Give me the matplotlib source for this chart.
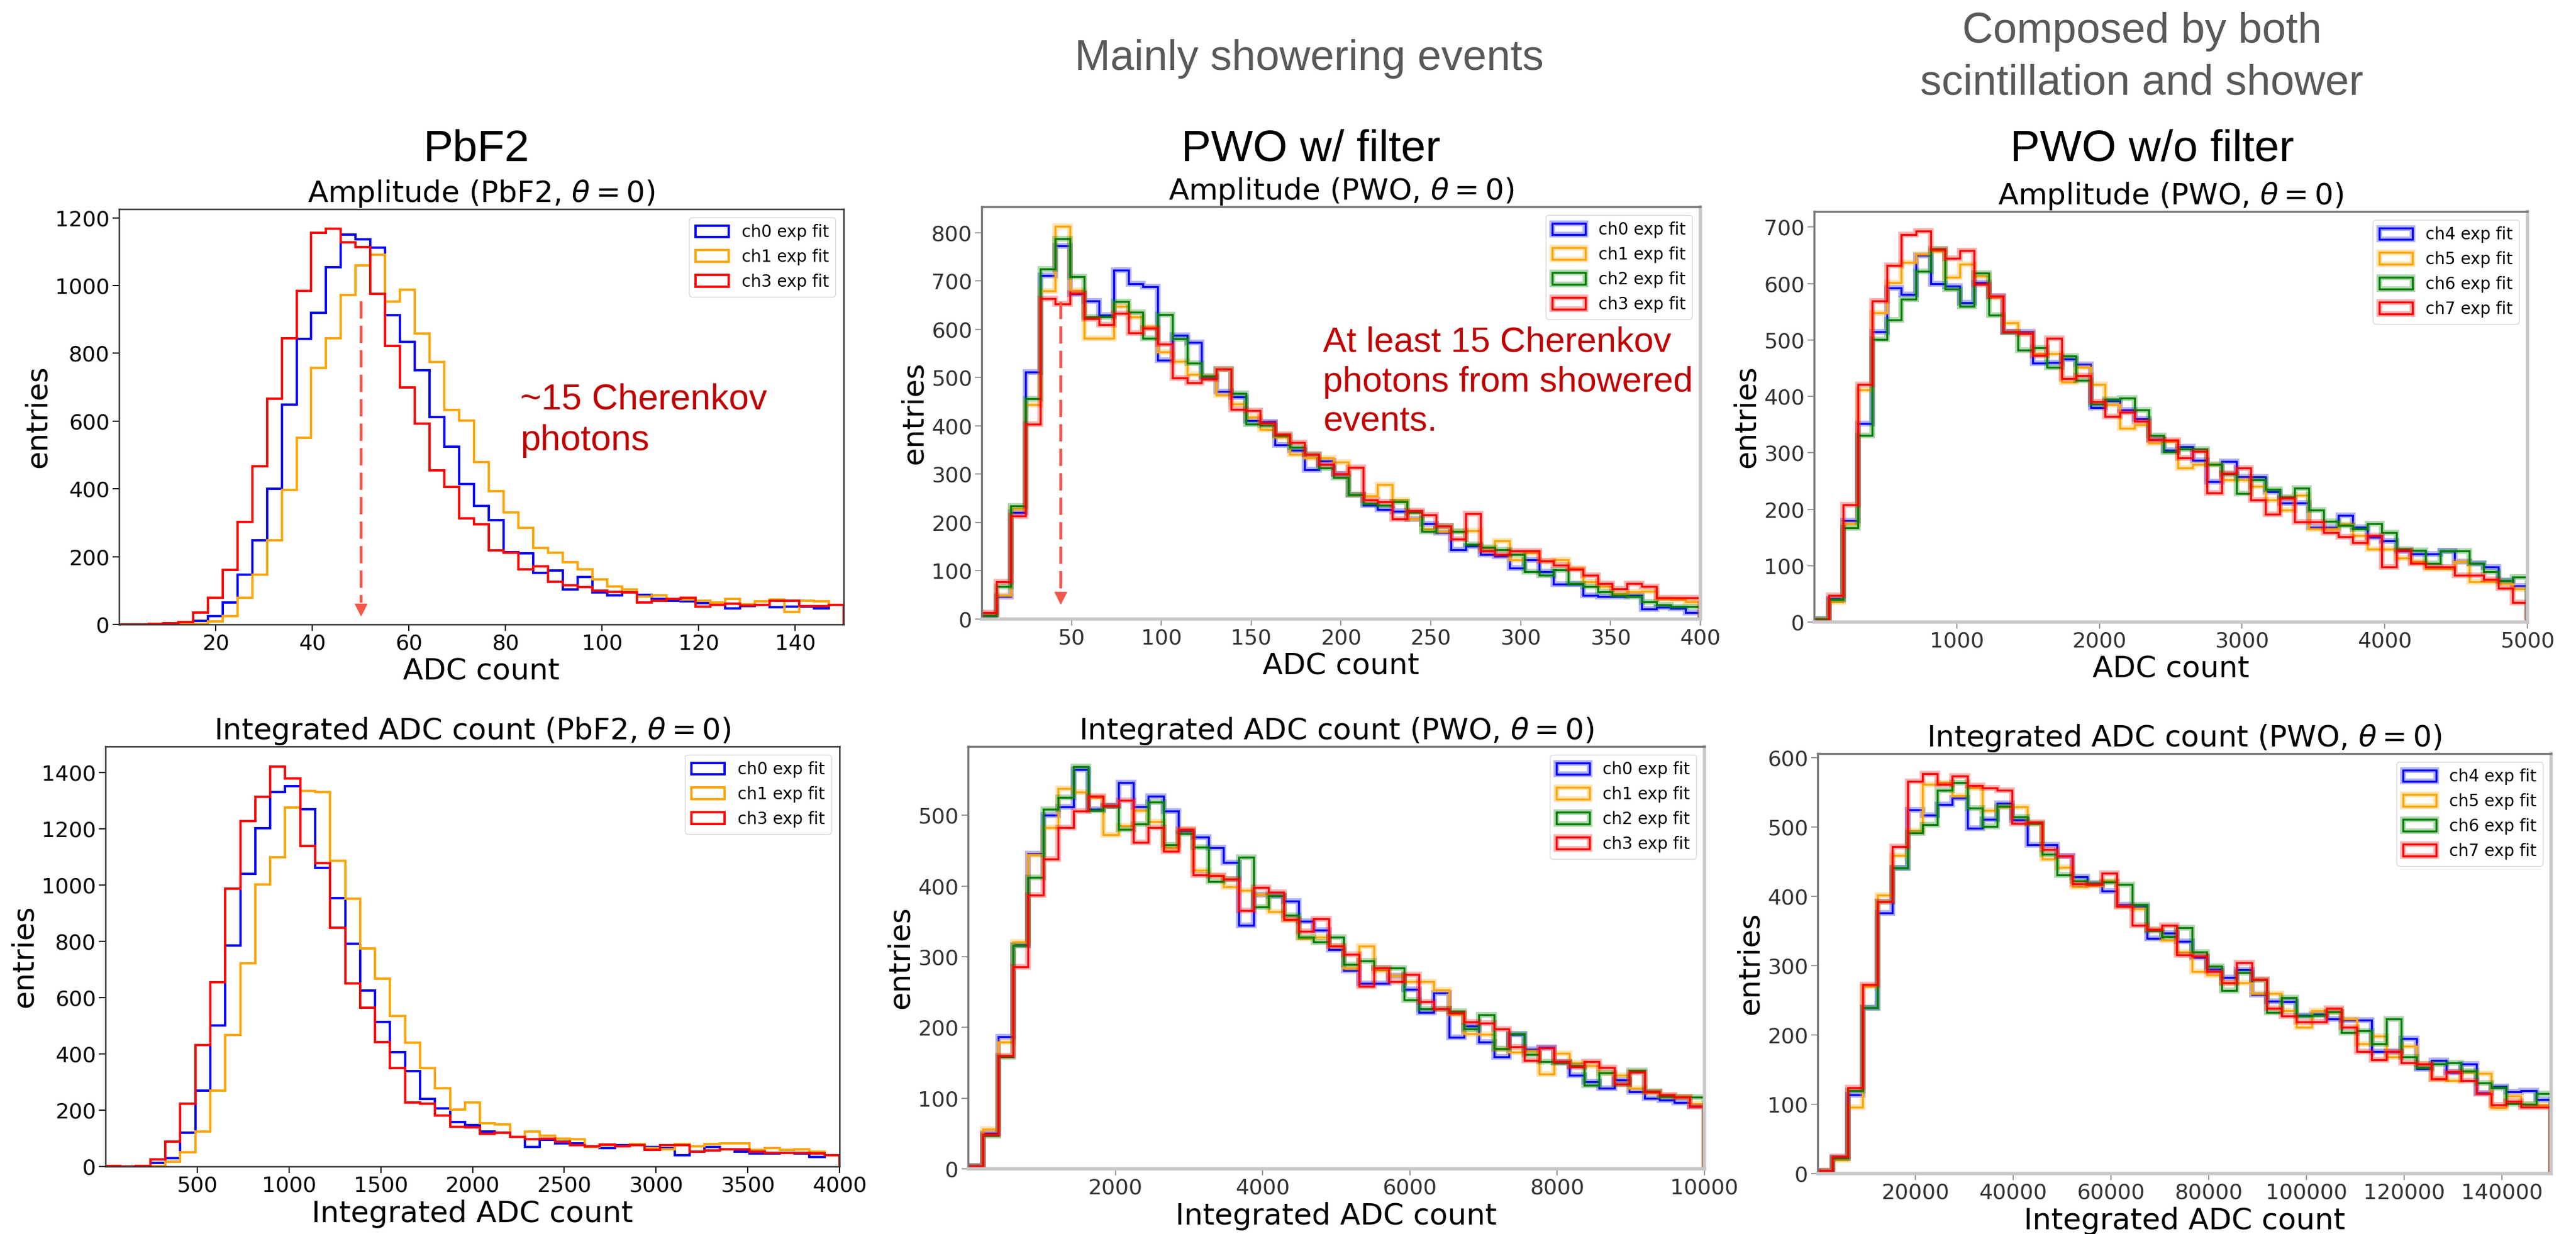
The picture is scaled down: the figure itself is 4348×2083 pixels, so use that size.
import numpy as np
import matplotlib
matplotlib.use('Agg')
import matplotlib.pyplot as plt
import matplotlib.patheffects as pe

# entries per bin (49 bins between 0 and the axis maximum)
amp_pbf2_max = 150
amp_pbf2_ch0 = [0, 0, 1, 2, 3, 10, 25, 65, 147, 249, 401, 648, 842, 920, 1054, 1150, 1137, 1111, 913, 833,
                750, 612, 525, 414, 349, 307, 214, 209, 152, 159, 104, 139, 94, 85, 95, 88, 75, 70, 68, 63,
                57, 48, 55, 57, 50, 52, 52, 48, 58]
amp_pbf2_ch1 = [0, 0, 0, 0, 1, 2, 8, 25, 78, 146, 249, 397, 551, 757, 845, 972, 1059, 1090, 953, 987,
                858, 775, 632, 602, 479, 393, 330, 285, 226, 212, 184, 163, 133, 111, 104, 83, 86, 76, 74, 70,
                64, 75, 60, 68, 73, 36, 70, 68, 58]
amp_pbf2_ch3 = [0, 0, 2, 3, 7, 35, 78, 160, 303, 467, 666, 845, 985, 1155, 1167, 1128, 1113, 975, 822, 700,
                593, 454, 405, 313, 296, 218, 211, 163, 172, 125, 115, 110, 100, 97, 95, 65, 70, 75, 78, 52,
                58, 62, 56, 58, 70, 70, 55, 55, 58]

amp_pwo_f_max = 400
amp_pwo_f_ch0 = [5, 46, 221, 511, 711, 773, 673, 659, 629, 722, 694, 688, 536, 587, 573, 501, 471, 460, 411, 408,
                 361, 349, 309, 327, 300, 258, 235, 227, 223, 207, 197, 179, 144, 151, 134, 130, 105, 123, 98, 72,
                 72, 49, 46, 47, 49, 21, 25, 22, 14]
amp_pwo_f_ch1 = [7, 49, 228, 444, 680, 813, 681, 581, 581, 647, 626, 605, 553, 534, 506, 503, 464, 445, 418, 392,
                 376, 341, 334, 334, 325, 258, 255, 278, 246, 207, 186, 181, 181, 183, 148, 162, 123, 137, 120, 123,
                 105, 77, 67, 53, 56, 58, 42, 40, 35]
amp_pwo_f_ch2 = [7, 67, 234, 456, 725, 787, 709, 626, 626, 657, 635, 581, 631, 580, 530, 503, 518, 467, 404, 401,
                 380, 356, 341, 313, 293, 258, 239, 236, 243, 221, 181, 193, 181, 155, 148, 144, 134, 98, 91, 102,
                 74, 67, 56, 49, 47, 35, 30, 26, 26]
amp_pwo_f_ch3 = [14, 77, 214, 403, 664, 652, 674, 622, 609, 633, 593, 602, 569, 499, 489, 497, 517, 434, 432, 406,
                 383, 366, 341, 320, 300, 314, 246, 243, 207, 225, 216, 193, 165, 218, 141, 134, 141, 141, 120, 112,
                 103, 91, 74, 63, 74, 68, 44, 44, 44]

amp_pwo_nf_max = 5000
amp_pwo_nf_ch4 = [5, 41, 180, 352, 514, 592, 581, 650, 600, 595, 566, 602, 578, 514, 514, 459, 460, 466, 457, 380,
                  392, 376, 360, 323, 304, 311, 287, 249, 285, 257, 257, 231, 211, 211, 168, 168, 189, 168, 150, 144,
                  126, 121, 121, 126, 107, 104, 98, 74, 64]
amp_pwo_nf_ch5 = [5, 36, 174, 412, 548, 602, 637, 652, 657, 611, 634, 613, 575, 530, 511, 476, 476, 425, 451, 421,
                  385, 343, 350, 317, 320, 273, 279, 279, 252, 252, 240, 216, 198, 225, 165, 165, 173, 153, 129, 129,
                  113, 107, 95, 94, 107, 71, 71, 68, 59]
amp_pwo_nf_ch6 = [5, 40, 167, 331, 501, 535, 572, 622, 661, 590, 560, 618, 544, 513, 482, 486, 451, 471, 428, 386,
                  395, 397, 376, 331, 301, 307, 307, 279, 263, 228, 252, 235, 222, 237, 198, 178, 171, 165, 174, 159,
                  129, 127, 104, 126, 126, 104, 89, 74, 80]
amp_pwo_nf_ch7 = [2, 47, 208, 421, 569, 632, 687, 693, 660, 645, 658, 599, 578, 514, 511, 473, 503, 432, 437, 391,
                  364, 372, 356, 323, 322, 291, 302, 229, 264, 273, 216, 191, 219, 177, 177, 159, 151, 141, 153, 98,
                  127, 104, 98, 98, 83, 83, 76, 60, 35]

int_pbf2_max = 4000
int_pbf2_ch0 = [0, 0, 0, 13, 30, 119, 270, 501, 784, 1039, 1202, 1331, 1351, 1269, 1061, 953, 791, 626, 514, 406,
                339, 240, 207, 158, 148, 125, 121, 105, 70, 95, 83, 83, 70, 65, 75, 79, 69, 66, 40, 53,
                70, 62, 53, 46, 46, 49, 46, 33, 40]
int_pbf2_ch1 = [0, 0, 0, 3, 17, 50, 125, 270, 468, 721, 1002, 1098, 1275, 1335, 1331, 1085, 952, 775, 668, 534,
                439, 349, 277, 202, 227, 154, 149, 105, 125, 109, 99, 96, 69, 75, 72, 79, 66, 62, 79, 72,
                79, 83, 83, 59, 66, 59, 62, 53, 40]
int_pbf2_ch3 = [3, 1, 3, 26, 88, 224, 432, 655, 988, 1226, 1314, 1421, 1378, 1138, 1077, 848, 650, 563, 442, 349,
                227, 224, 181, 141, 138, 116, 119, 105, 96, 99, 88, 76, 71, 78, 72, 75, 59, 75, 75, 53,
                57, 62, 62, 53, 49, 49, 49, 46, 40]

int_pwo_f_max = 10000
int_pwo_f_ch0 = [4, 50, 187, 317, 446, 500, 512, 565, 509, 514, 546, 512, 527, 506, 478, 469, 454, 433, 344, 388,
                 386, 379, 350, 338, 310, 281, 262, 262, 273, 254, 221, 249, 186, 202, 179, 158, 190, 169, 172, 151,
                 132, 123, 114, 126, 109, 100, 97, 94, 89]
int_pwo_f_ch1 = [3, 56, 179, 321, 444, 483, 538, 533, 525, 473, 485, 507, 491, 454, 480, 422, 415, 399, 394, 388,
                 364, 352, 326, 328, 315, 284, 315, 281, 273, 265, 265, 253, 219, 191, 190, 169, 165, 167, 134, 163,
                 150, 146, 136, 132, 114, 108, 103, 102, 92]
int_pwo_f_ch2 = [3, 47, 158, 316, 412, 509, 525, 569, 507, 513, 480, 488, 519, 458, 474, 455, 406, 410, 441, 370,
                 386, 359, 328, 321, 328, 289, 294, 284, 284, 239, 226, 226, 223, 198, 218, 170, 191, 162, 152, 150,
                 146, 118, 136, 120, 139, 110, 102, 101, 101]
int_pwo_f_ch3 = [3, 49, 160, 286, 387, 438, 483, 506, 527, 514, 521, 462, 483, 449, 480, 416, 415, 410, 365, 398,
                 391, 353, 336, 354, 315, 303, 258, 284, 265, 275, 236, 226, 220, 208, 206, 198, 173, 153, 171, 152,
                 144, 152, 143, 120, 137, 109, 105, 101, 88]

int_pwo_nf_max = 150000
int_pwo_nf_ch4 = [3, 23, 114, 239, 376, 441, 525, 517, 532, 542, 498, 511, 534, 510, 474, 474, 458, 428, 419, 408,
                  388, 385, 339, 347, 335, 312, 295, 283, 294, 258, 249, 248, 228, 230, 223, 221, 221, 176, 176, 195,
                  151, 163, 146, 158, 116, 126, 118, 120, 107]
int_pwo_nf_ch5 = [3, 20, 96, 270, 402, 459, 495, 561, 564, 545, 556, 524, 529, 529, 505, 454, 442, 414, 415, 422,
                  385, 382, 352, 337, 320, 291, 286, 275, 275, 260, 260, 235, 211, 235, 233, 223, 187, 198, 168, 184,
                  158, 136, 134, 146, 144, 95, 112, 100, 99]
int_pwo_nf_ch6 = [3, 22, 120, 239, 392, 441, 491, 503, 553, 564, 527, 501, 530, 514, 505, 461, 431, 422, 419, 420,
                  417, 388, 350, 342, 355, 320, 299, 264, 290, 279, 232, 254, 227, 228, 233, 203, 206, 187, 223, 168,
                  153, 158, 160, 148, 131, 124, 101, 100, 115]
int_pwo_nf_ch7 = [4, 25, 124, 273, 392, 472, 566, 577, 561, 573, 560, 556, 553, 505, 507, 467, 458, 418, 417, 433,
                  385, 358, 352, 358, 315, 314, 291, 275, 304, 280, 238, 227, 219, 219, 238, 211, 176, 164, 176, 160,
                  158, 137, 147, 134, 115, 99, 104, 96, 96]

labels_pbf2 = ['ch0 exp fit', 'ch1 exp fit', 'ch3 exp fit']
labels_pwo_f = ['ch0 exp fit', 'ch1 exp fit', 'ch2 exp fit', 'ch3 exp fit']
labels_pwo_nf = ['ch4 exp fit', 'ch5 exp fit', 'ch6 exp fit', 'ch7 exp fit']
colors3 = ['blue', 'orange', 'red']
colors4 = ['blue', 'orange', 'green', 'red']

# mean photon-count markers (x, arrow top, arrow tip)
arrow_pbf2 = (50, 955, 44)
arrow_pwo = (44, 657, 44)

ANNOT_RED = '#c00000'
ARROW_RED = '#f0594b'
HEAD_FONT = 'Liberation Sans'


def draw_hist(ax, xmax, series, colors, labels, soft=False):
    edges = np.linspace(0, xmax, len(series[0]) + 1)
    centers = 0.5 * (edges[:-1] + edges[1:])
    for counts, c, lab in zip(series, colors, labels):
        _, _, patches = ax.hist(centers, bins=edges, weights=counts, histtype='step',
                                color=c, lw=2.4 if soft else 2.8, label=lab)
        if soft:
            for p in patches:
                p.set_path_effects([pe.Stroke(linewidth=7, foreground=c, alpha=0.3), pe.Normal()])
    ax.set_xlim(0, xmax)
    ax.legend(loc='upper right', fontsize=20)
    ax.set_ylabel('entries', fontsize=36)
    ax.tick_params(labelsize=26, length=8, width=1.5)
    if soft:
        ax.tick_params(colors='#999999', labelcolor='#333333')
        for side in ['left', 'top']:
            ax.spines[side].set_color('#777777')
            ax.spines[side].set_linewidth(2.5)
        for side in ['right', 'bottom']:
            ax.spines[side].set_color('#c8c8c8')
            ax.spines[side].set_linewidth(4)
    else:
        for s in ax.spines.values():
            s.set_color('#333333')
            s.set_linewidth(1.8)


def draw_arrow(ax, arrow):
    x, top, tip = arrow
    ax.plot([x, x], [top, tip + 20], ls=(0, (6, 2.5)), color=ARROW_RED, lw=3.5)
    ax.plot([x], [tip], marker='v', ms=15, color=ARROW_RED, ls='none')


fig = plt.figure(figsize=(43.48, 20.83), dpi=100)

ax1 = fig.add_axes([0.04623, 0.49400, 0.28128, 0.33653])
ax2 = fig.add_axes([0.38109, 0.49832, 0.27898, 0.33413])
ax3 = fig.add_axes([0.70423, 0.49592, 0.27691, 0.33269])
ax4 = fig.add_axes([0.04094, 0.05473, 0.28496, 0.34037])
ax5 = fig.add_axes([0.37580, 0.05281, 0.28588, 0.34229])
ax6 = fig.add_axes([0.70561, 0.04897, 0.28473, 0.34037])

# top row: amplitude
draw_hist(ax1, amp_pbf2_max, [amp_pbf2_ch0, amp_pbf2_ch1, amp_pbf2_ch3], colors3, labels_pbf2)
ax1.set_xticks(np.arange(20, 141, 20))
ax1.set_title(r'Amplitude (PbF2, $\theta = 0$)', fontsize=36)
ax1.set_xlabel('ADC count', fontsize=36)
draw_arrow(ax1, arrow_pbf2)
ax1.text(83, 712, '~15 Cherenkov\nphotons', color=ANNOT_RED, fontsize=44,
         family=HEAD_FONT, va='top', ha='left', linespacing=1.27)

draw_hist(ax2, amp_pwo_f_max, [amp_pwo_f_ch0, amp_pwo_f_ch1, amp_pwo_f_ch2, amp_pwo_f_ch3],
          colors4, labels_pwo_f, soft=True)
ax2.set_xticks(np.arange(50, 401, 50))
ax2.set_title(r'Amplitude (PWO, $\theta = 0$)', fontsize=36)
ax2.set_xlabel('ADC count', fontsize=36)
draw_arrow(ax2, arrow_pwo)
ax2.text(190, 606, 'At least 15 Cherenkov\nphotons from showered\nevents.', color=ANNOT_RED,
         fontsize=43, family=HEAD_FONT, va='top', ha='left', linespacing=1.27)

draw_hist(ax3, amp_pwo_nf_max, [amp_pwo_nf_ch4, amp_pwo_nf_ch5, amp_pwo_nf_ch6, amp_pwo_nf_ch7],
          colors4, labels_pwo_nf, soft=True)
ax3.set_xticks(np.arange(1000, 5001, 1000))
ax3.set_title(r'Amplitude (PWO, $\theta = 0$)', fontsize=36)
ax3.set_xlabel('ADC count', fontsize=36)

# bottom row: integrated charge
draw_hist(ax4, int_pbf2_max, [int_pbf2_ch0, int_pbf2_ch1, int_pbf2_ch3], colors3, labels_pbf2)
ax4.set_xticks(np.arange(500, 4001, 500))
ax4.set_title(r'Integrated ADC count (PbF2, $\theta = 0$)', fontsize=36)
ax4.set_xlabel('Integrated ADC count', fontsize=36)

draw_hist(ax5, int_pwo_f_max, [int_pwo_f_ch0, int_pwo_f_ch1, int_pwo_f_ch2, int_pwo_f_ch3],
          colors4, labels_pwo_f, soft=True)
ax5.set_xticks(np.arange(2000, 10001, 2000))
ax5.set_title(r'Integrated ADC count (PWO, $\theta = 0$)', fontsize=36)
ax5.set_xlabel('Integrated ADC count', fontsize=36)

draw_hist(ax6, int_pwo_nf_max, [int_pwo_nf_ch4, int_pwo_nf_ch5, int_pwo_nf_ch6, int_pwo_nf_ch7],
          colors4, labels_pwo_nf, soft=True)
ax6.set_xticks(np.arange(20000, 140001, 20000))
ax6.set_title(r'Integrated ADC count (PWO, $\theta = 0$)', fontsize=36)
ax6.set_xlabel('Integrated ADC count', fontsize=36)

# column headers
fig.text(0.18491, 0.86942, 'PbF2', fontsize=54, family=HEAD_FONT, ha='center', va='baseline')
fig.text(0.50897, 0.86942, 'PWO w/ filter', fontsize=54, family=HEAD_FONT, ha='center', va='baseline')
fig.text(0.83533, 0.86942, 'PWO w/o filter', fontsize=54, family=HEAD_FONT, ha='center', va='baseline')
fig.text(0.50828, 0.94335, 'Mainly showering events', fontsize=52, family=HEAD_FONT,
         color='#595959', ha='center', va='baseline')
fig.text(0.83142, 0.96543, 'Composed by both', fontsize=52, family=HEAD_FONT,
         color='#595959', ha='center', va='baseline')
fig.text(0.83142, 0.92319, 'scintillation and shower', fontsize=52, family=HEAD_FONT,
         color='#595959', ha='center', va='baseline')

fig.savefig('out.png', dpi=100)
